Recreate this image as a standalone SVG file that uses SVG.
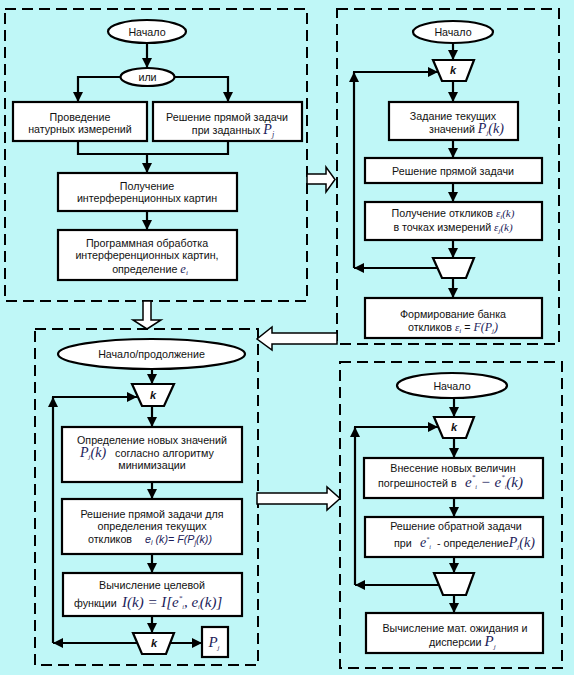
<svg xmlns="http://www.w3.org/2000/svg" width="574" height="675" viewBox="0 0 574 675">
<defs>
<marker id="ah" markerUnits="userSpaceOnUse" markerWidth="10" markerHeight="10" refX="10" refY="5" orient="auto">
<path d="M0,0 L10,5 L0,10 z" fill="#000"/>
</marker>
<style>
.bg{fill:#bff7f7}
.panel{fill:none;stroke:#000;stroke-width:2;stroke-dasharray:11 6}
.box{fill:#fff;stroke:#000;stroke-width:2.2}
.hol{fill:#fff;stroke:#000;stroke-width:1.5}
.ln{fill:none;stroke:#000;stroke-width:2.2}
.ar{fill:none;stroke:#000;stroke-width:2.2;marker-end:url(#ah)}
text{font-family:"Liberation Sans",Arial,sans-serif;font-size:10.7px;fill:#111}
.c{text-anchor:middle}
.m{font-family:"Liberation Serif","Times New Roman",serif;font-style:italic;fill:#1c1c5a}
.mi{font-style:italic;fill:#1c1c5a}
.k{font-style:italic;font-weight:bold;font-size:11px}
</style>
</defs>
<rect class="bg" x="0" y="0" width="574" height="675"/>

<g id="panels">
<rect class="panel" x="5" y="9" width="302" height="292"/>
<rect class="panel" x="337" y="9" width="222" height="335"/>
<rect class="panel" x="35" y="329" width="223" height="336"/>
<rect class="panel" x="340" y="362" width="222" height="306"/>
</g>

<g id="transfer-arrows">
<polygon class="hol" points="307,174 326,174 326,167 335,179.5 326,192 326,184 307,184"/>
<polygon class="hol" points="143,301 151,301 151,320 161,320 147,329 133,320 143,320"/>
<polygon class="hol" points="337,333 272,333 272,327 257,339 272,350 272,344 337,344"/>
<polygon class="hol" points="257,493 327,493 327,487 340,498.5 327,510 327,504 257,504"/>
</g>

<g id="connectors">
<line class="ar" x1="147" y1="43" x2="147" y2="68"/>
<polyline class="ar" points="121,77 78,77 78,102"/>
<polyline class="ar" points="174,77 228,77 228,102"/>
<polyline class="ln" points="78,141 78,154 228,154 228,141"/>
<line class="ar" x1="147" y1="154" x2="147" y2="173"/>
<line class="ar" x1="147" y1="211" x2="147" y2="230"/>

<line class="ar" x1="453" y1="43" x2="453" y2="60"/>
<line class="ar" x1="453" y1="81" x2="453" y2="102"/>
<line class="ar" x1="453" y1="140" x2="453" y2="158"/>
<line class="ar" x1="453" y1="183" x2="453" y2="202"/>
<line class="ar" x1="453" y1="240" x2="453" y2="258"/>
<line class="ar" x1="453" y1="278" x2="453" y2="298"/>
<line class="ar" x1="437" y1="268" x2="354" y2="268"/>
<line class="ar" x1="354" y1="268" x2="354" y2="72"/>
<line class="ar" x1="353" y1="72" x2="438" y2="72"/>

<line class="ar" x1="152" y1="369" x2="152" y2="384"/>
<line class="ar" x1="152" y1="406" x2="152" y2="427"/>
<line class="ar" x1="152" y1="482" x2="152" y2="499"/>
<line class="ar" x1="152" y1="554" x2="152" y2="573"/>
<line class="ar" x1="152" y1="616" x2="152" y2="633"/>
<line class="ar" x1="137" y1="643" x2="53" y2="643"/>
<line class="ar" x1="53" y1="643" x2="53" y2="397"/>
<line class="ar" x1="52" y1="397" x2="137" y2="397"/>
<line class="ar" x1="169" y1="643" x2="202" y2="643"/>

<line class="ar" x1="454" y1="398" x2="454" y2="417"/>
<line class="ar" x1="454" y1="438" x2="454" y2="458"/>
<line class="ar" x1="454" y1="498" x2="454" y2="517"/>
<line class="ar" x1="454" y1="557" x2="454" y2="573"/>
<line class="ar" x1="454" y1="595" x2="454" y2="613"/>
<line class="ar" x1="438" y1="585" x2="355" y2="585"/>
<line class="ar" x1="355" y1="585" x2="355" y2="427"/>
<line class="ar" x1="354" y1="427" x2="438" y2="427"/>
</g>

<g id="tl-start"><ellipse class="box" cx="147" cy="31.5" rx="39" ry="11.5"/><text class="c" x="147" y="35.5">Начало</text></g>
<g id="tl-or"><ellipse class="box" cx="147.5" cy="77" rx="27" ry="9"/><text class="c" x="147.5" y="81">или</text></g>
<g id="tl-measure"><rect class="box" x="13" y="102" width="134" height="39"/><text class="c" x="80" y="121">Проведение</text><text class="c" x="80" y="133">натурных измерений</text></g>
<g id="tl-direct"><rect class="box" x="153" y="102" width="149" height="39"/><text class="c" x="227" y="121">Решение прямой задачи</text><text class="c" x="233" y="134">при заданных <tspan class="m" font-size="14">P</tspan><tspan class="m" font-size="8" dy="3">j</tspan></text></g>
<g id="tl-patterns"><rect class="box" x="58" y="173" width="179" height="38"/><text class="c" x="147" y="190">Получение</text><text class="c" x="147" y="202">интерференционных картин</text></g>
<g id="tl-processing"><rect class="box" x="58" y="230" width="179" height="50"/><text class="c" x="147" y="247">Программная обработка</text><text class="c" x="147" y="259">интерференционных картин,</text><text class="c" x="150" y="273">определение <tspan class="m" font-size="12.5">e</tspan><tspan class="m" font-size="7" dy="2">i</tspan></text></g>

<g id="tr-start"><ellipse class="box" cx="453" cy="32" rx="40" ry="11"/><text class="c" x="453" y="36">Начало</text></g>
<g id="tr-loop-start"><polygon class="box" points="433,60 474,60 466,81 442,81"/><text class="c k" x="453" y="74">k</text></g>
<g id="tr-set"><rect class="box" x="389" y="102" width="129" height="38"/><text class="c" x="453" y="120">Задание текущих</text><text x="429" y="133">значений <tspan class="m" font-size="14">P</tspan><tspan class="m" font-size="7" dy="2">j</tspan><tspan class="m" font-size="14" dy="-2">(k)</tspan></text></g>
<g id="tr-direct"><rect class="box" x="365" y="158" width="177" height="25"/><text class="c" x="453" y="175">Решение прямой задачи</text></g>
<g id="tr-responses"><rect class="box" x="365" y="202" width="177" height="38"/><text class="c" x="453" y="217">Получение откликов <tspan class="m" font-size="11" fill="#555">ε</tspan><tspan class="m" font-size="7" dy="2">i</tspan><tspan class="m" font-size="11" dy="-2" fill="#555">(k)</tspan></text><text class="c" x="453" y="231">в точках измерений <tspan class="m" font-size="11" fill="#555">ε</tspan><tspan class="m" font-size="7" dy="2">j</tspan><tspan class="m" font-size="11" dy="-2" fill="#555">(k)</tspan></text></g>
<g id="tr-loop-end"><polygon class="box" points="433,258 474,258 466,278 442,278"/></g>
<g id="tr-bank"><rect class="box" x="365" y="298" width="177" height="40"/><text class="c" x="453" y="318">Формирование банка</text><text class="c" x="453" y="331">откликов <tspan class="m" font-size="11" fill="#555">ε</tspan><tspan class="m" font-size="7" dy="2">i</tspan><tspan dy="-2"> = </tspan><tspan class="m" font-size="12">F(P</tspan><tspan class="m" font-size="7" dy="2">j</tspan><tspan class="m" font-size="12" dy="-2">)</tspan></text></g>

<g id="bl-start"><ellipse class="box" cx="151.5" cy="354" rx="93.5" ry="15"/><text class="c" x="151.5" y="358">Начало/продолжение</text></g>
<g id="bl-loop-start"><polygon class="box" points="132,384 174,384 164,406 142,406"/><text class="c k" x="153" y="399">k</text></g>
<g id="bl-new-values"><rect class="box" x="62" y="427" width="180" height="55"/><text class="c" x="152" y="444">Определение новых значений</text><text x="80" y="457"><tspan class="m" font-size="14">P</tspan><tspan class="m" font-size="7" dy="2">j</tspan><tspan class="m" font-size="14" dy="-2">(k)</tspan><tspan x="115">согласно алгоритму</tspan></text><text class="c" x="152" y="469">минимизации</text></g>
<g id="bl-direct"><rect class="box" x="62" y="499" width="180" height="55"/><text class="c" x="152" y="518">Решение прямой задачи для</text><text class="c" x="152" y="530">определения  текущих</text><text x="88" y="543">откликов <tspan x="145" class="mi">e</tspan><tspan class="mi" font-size="7" dy="2">i</tspan><tspan class="mi" dy="-2"> (k)= F(P</tspan><tspan class="mi" font-size="7" dy="2">j</tspan><tspan class="mi" dy="-2">(k))</tspan></text></g>
<g id="bl-objective"><rect class="box" x="63" y="573" width="179" height="43"/><text class="c" x="152" y="589">Вычисление целевой</text><text x="74" y="607">функции <tspan x="122" class="m" font-size="15">I(k) = I[e</tspan><tspan class="m" font-size="7" dy="-7">*</tspan><tspan class="m" font-size="6" dy="9">i</tspan><tspan class="m" font-size="15" dy="-2">, e</tspan><tspan class="m" font-size="6" dy="2">i</tspan><tspan class="m" font-size="15" dy="-2">(k)]</tspan></text></g>
<g id="bl-loop-end"><polygon class="box" points="133,633 174,633 166,654 142,654"/><text class="c k" x="154" y="647">k</text></g>
<g id="bl-result"><rect class="box" x="202" y="627" width="26" height="30"/><text class="c" x="214" y="647"><tspan class="m" font-size="15">P</tspan><tspan class="m" font-size="7" dy="3">j</tspan></text></g>

<g id="br-start"><ellipse class="box" cx="452" cy="385.5" rx="55" ry="12.5"/><text class="c" x="452" y="389.5">Начало</text></g>
<g id="br-loop-start"><polygon class="box" points="434,417 474,417 466,438 443,438"/><text class="c k" x="454" y="431">k</text></g>
<g id="br-errors"><rect class="box" x="364" y="458" width="179" height="40"/><text class="c" x="453" y="472">Внесение новых величин</text><text x="378" y="487">погрешностей в <tspan x="465" class="m" font-size="15">e</tspan><tspan class="m" font-size="7" dy="-8">*</tspan><tspan class="m" font-size="6" dy="10">i</tspan><tspan class="m" font-size="15" dy="-2"> − e</tspan><tspan class="m" font-size="7" dy="-8">*</tspan><tspan class="m" font-size="6" dy="10">i</tspan><tspan class="m" font-size="15" dy="-2">(k)</tspan></text></g>
<g id="br-inverse"><rect class="box" x="365" y="517" width="178" height="40"/><text class="c" x="456" y="530">Решение обратной задачи</text><text x="394" y="547">при <tspan x="420" class="m" font-size="14">e</tspan><tspan class="m" font-size="6" dy="-6">*</tspan><tspan class="m" font-size="6" dy="8">i</tspan><tspan x="437" dy="-2">- определение</tspan><tspan class="m" font-size="14">P</tspan><tspan class="m" font-size="7" dy="2">j</tspan><tspan class="m" font-size="14" dy="-2">(k)</tspan></text></g>
<g id="br-loop-end"><polygon class="box" points="434,573 474,573 466,595 443,595"/></g>
<g id="br-stats"><rect class="box" x="366" y="613" width="177" height="40"/><text class="c" x="455" y="632">Вычисление мат. ожидания и</text><text x="429" y="646">дисперсии <tspan class="m" font-size="15">P</tspan><tspan class="m" font-size="7" dy="3">j</tspan></text></g>
</svg>
